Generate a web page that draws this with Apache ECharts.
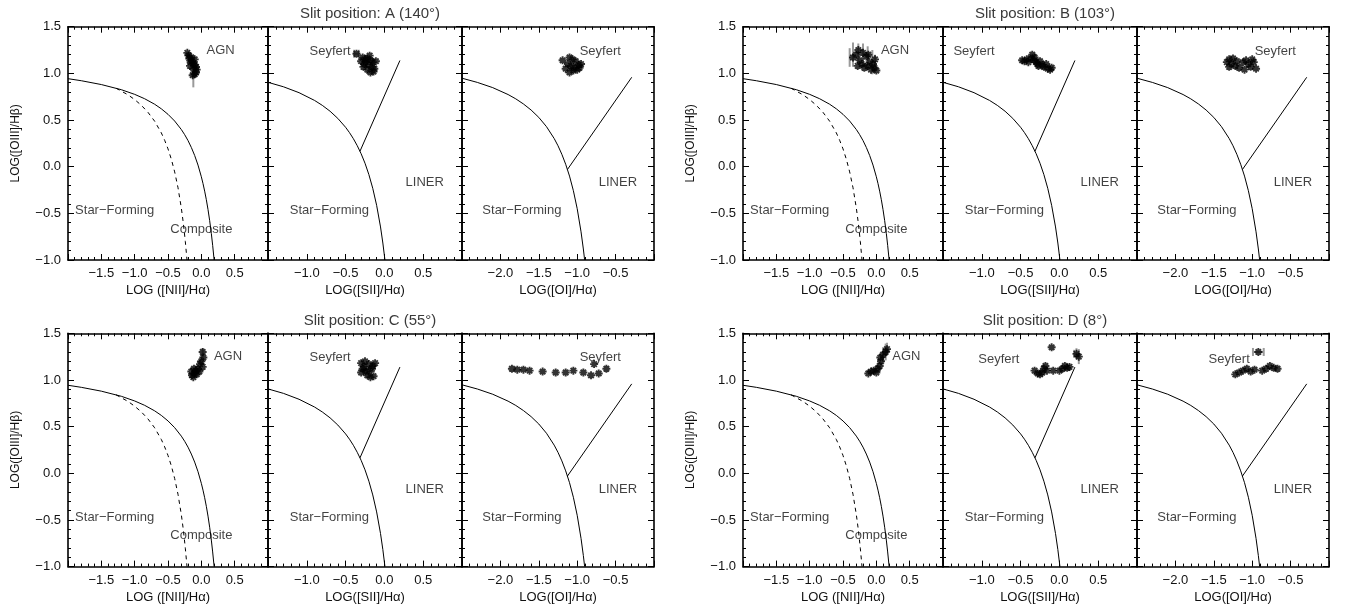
<!DOCTYPE html>
<html>
<head>
<meta charset="UTF-8">
<title>BPT diagrams</title>
<script src="https://cdn.jsdelivr.net/npm/echarts@6/dist/echarts.min.js"></script>
<style>html,body{margin:0;padding:0;background:#fff;}</style>
</head>
<body>
<div id="main" style="width:1345px;height:608px;"></div>
<script>
// demarcation lines
var niiKewley = [[-2.0,0.943],[-1.8,0.921],[-1.5,0.880],[-1.2,0.825],[-1.0,0.775],[-0.85,0.728],[-0.7,0.669],[-0.6,0.620],[-0.5,0.561],[-0.4,0.489],[-0.3,0.398],[-0.25,0.343],[-0.2,0.280],[-0.15,0.206],[-0.1,0.120],[-0.05,0.017],[0.0,-0.108],[0.025,-0.181],[0.05,-0.262],[0.075,-0.354],[0.1,-0.459],[0.125,-0.578],[0.15,-0.716],[0.17,-0.843],[0.192,-1.0]];
var niiKauff = [[-1.28,0.841],[-1.1,0.770],[-1.0,0.719],[-0.9,0.658],[-0.8,0.582],[-0.7,0.487],[-0.6,0.362],[-0.55,0.283],[-0.5,0.191],[-0.45,0.080],[-0.4,-0.056],[-0.35,-0.225],[-0.3,-0.443],[-0.27,-0.606],[-0.24,-0.803],[-0.215,-1.0]];
var siiKewley = [[-1.5,0.904],[-1.3,0.856],[-1.1,0.793],[-0.9,0.710],[-0.8,0.657],[-0.7,0.594],[-0.6,0.517],[-0.5,0.422],[-0.45,0.365],[-0.4,0.300],[-0.35,0.225],[-0.3,0.139],[-0.25,0.037],[-0.2,-0.085],[-0.15,-0.232],[-0.1,-0.414],[-0.05,-0.646],[-0.02,-0.818],[0.007,-1.0]];
var siiLiner = [[-0.315,0.165],[0.2,1.138]];
var oiKewley = [[-2.5,0.948],[-2.3,0.903],[-2.1,0.847],[-1.9,0.773],[-1.8,0.727],[-1.7,0.672],[-1.6,0.607],[-1.5,0.528],[-1.4,0.429],[-1.3,0.302],[-1.25,0.224],[-1.2,0.133],[-1.15,0.026],[-1.1,-0.101],[-1.05,-0.257],[-1.0,-0.450],[-0.95,-0.698],[-0.92,-0.882],[-0.903,-1.0]];
var oiLiner = [[-1.127,-0.03],[-0.29,0.958]];

var slitTitles = ['Slit position: A (140\u00b0)', 'Slit position: B (103\u00b0)', 'Slit position: C (55\u00b0)', 'Slit position: D (8\u00b0)'];
var xNames = ['LOG ([NII]/H\u03b1)', 'LOG([SII]/H\u03b1)', 'LOG([OI]/H\u03b1)'];
var yName = 'LOG([OIII]/H\u03b2)';
var xRanges = [[-2.0, 1.0], [-1.5, 1.0], [-2.5, 0.0]];
var yRange = [-1.0, 1.5];

// measured points [log ratio, log OIII/Hb]
var ptsA1 = [[-0.21,1.22],[-0.19,1.19],[-0.18,1.16],[-0.15,1.17],[-0.14,1.13],[-0.12,1.11],[-0.10,1.09],[-0.08,1.07],[-0.07,1.04],[-0.08,1.01],[-0.10,0.99],[-0.13,0.98],[-0.16,1.12],[-0.12,1.05],[-0.17,1.08],[-0.10,1.15]];
var ptsA2 = [[-0.36,1.21],[-0.28,1.17],[-0.25,1.15],[-0.22,1.16],[-0.18,1.14],[-0.15,1.12],[-0.30,1.13],[-0.26,1.10],[-0.20,1.09],[-0.16,1.07],[-0.13,1.05],[-0.22,1.04],[-0.18,1.01],[-0.14,1.02],[-0.27,1.07],[-0.11,1.13],[-0.24,1.12],[-0.19,1.19]];
var ptsA3 = [[-1.19,1.14],[-1.10,1.17],[-1.06,1.15],[-1.02,1.13],[-1.12,1.10],[-1.08,1.08],[-0.98,1.09],[-0.95,1.10],[-1.15,1.05],[-1.05,1.03],[-1.00,1.04],[-1.10,1.01],[-1.04,1.06],[-0.97,1.06]];
var ptsB1 = [[-0.35,1.17],[-0.30,1.20],[-0.27,1.25],[-0.25,1.14],[-0.22,1.10],[-0.20,1.22],[-0.18,1.06],[-0.15,1.18],[-0.13,1.08],[-0.10,1.12],[-0.08,1.04],[-0.05,1.10],[-0.03,1.06],[0.00,1.03],[-0.28,1.08],[-0.12,1.20],[-0.02,1.15]];
var ptsB2 = [[-0.48,1.14],[-0.45,1.13],[-0.42,1.15],[-0.40,1.12],[-0.37,1.16],[-0.35,1.20],[-0.33,1.14],[-0.30,1.12],[-0.28,1.10],[-0.25,1.13],[-0.22,1.09],[-0.20,1.07],[-0.17,1.10],[-0.15,1.05],[-0.12,1.04],[-0.10,1.06],[-0.32,1.17],[-0.27,1.08]];
var ptsB3 = [[-1.33,1.12],[-1.30,1.15],[-1.27,1.10],[-1.25,1.16],[-1.22,1.08],[-1.20,1.13],[-1.17,1.06],[-1.30,1.07],[-1.12,1.12],[-1.08,1.14],[-1.05,1.10],[-1.02,1.07],[-0.98,1.12],[-0.95,1.05],[-1.10,1.04],[-1.00,1.15]];
var ptsC1 = [[0.02,1.30],[0.03,1.24],[0.00,1.20],[-0.02,1.17],[0.02,1.14],[-0.05,1.12],[-0.08,1.10],[-0.03,1.09],[-0.10,1.07],[-0.14,1.05],[-0.12,1.03],[-0.07,1.06],[-0.15,1.09],[-0.11,1.12]];
var ptsC2 = [[-0.30,1.18],[-0.25,1.20],[-0.20,1.17],[-0.15,1.15],[-0.12,1.18],[-0.28,1.12],[-0.24,1.09],[-0.20,1.10],[-0.16,1.12],[-0.30,1.08],[-0.22,1.05],[-0.18,1.03],[-0.14,1.04],[-0.26,1.14]];
var ptsC3 = [[-1.85,1.12],[-1.78,1.11],[-1.70,1.11],[-1.62,1.10],[-1.45,1.09],[-1.28,1.08],[-1.15,1.08],[-1.05,1.10],[-0.92,1.08],[-0.82,1.05],[-0.72,1.07],[-0.62,1.12],[-0.78,1.17]];
var ptsD1 = [[-0.12,1.07],[-0.08,1.09],[-0.04,1.10],[0.00,1.08],[0.02,1.12],[0.05,1.15],[0.07,1.20],[0.06,1.24],[0.10,1.27],[0.14,1.30],[0.16,1.33]];
var ptsD2 = [[-0.32,1.10],[-0.28,1.07],[-0.25,1.06],[-0.22,1.08],[-0.20,1.12],[-0.18,1.15],[-0.16,1.10],[-0.10,1.35],[-0.08,1.10],[0.00,1.10],[0.04,1.12],[0.07,1.15],[0.10,1.13],[0.13,1.14],[0.22,1.28],[0.25,1.25]];
var ptsD3 = [[-1.22,1.06],[-1.17,1.08],[-1.12,1.10],[-1.07,1.12],[-1.02,1.09],[-0.97,1.11],[-0.92,1.30],[-0.87,1.10],[-0.82,1.12],[-0.77,1.15],[-0.72,1.13],[-0.67,1.12]];

// error bars [x, y, xerr, yerr]
var errA1 = [[-0.12,0.98,0,0.13],[-0.20,1.20,0,0.03]];
var errA2 = [[-0.36,1.21,0.03,0]];
var errA3 = [];
var errB1 = [[-0.40,1.17,0,0.10],[-0.35,1.20,0,0.13],[-0.27,1.22,0,0.10],[-0.20,1.20,0,0.12],[-0.13,1.17,0,0.12],[-0.06,1.12,0,0.13],[-0.02,1.10,0,0.10]];
var errB2 = [];
var errB3 = [];
var errC1 = [[0.02,1.28,0,0.06]];
var errC2 = [];
var errC3 = [];
var errD1 = [[0.10,1.27,0,0.08],[0.14,1.30,0,0.09],[0.16,1.33,0,0.07]];
var errD2 = [[0.22,1.28,0.03,0.06],[0.25,1.25,0,0.08]];
var errD3 = [[-0.92,1.30,0.07,0]];

// region labels
var txtA = [[['AGN',0.29,1.25],['Star\u2212Forming',-1.3,-0.47],['Composite',0.0,-0.67]],
            [['Seyfert',-0.7,1.24],['LINER',0.52,-0.17],['Star\u2212Forming',-0.71,-0.47]],
            [['Seyfert',-0.7,1.24],['LINER',-0.47,-0.17],['Star\u2212Forming',-1.72,-0.47]]];
var txtB = [[['AGN',0.28,1.25],['Star\u2212Forming',-1.3,-0.47],['Composite',0.0,-0.67]],
            [['Seyfert',-1.1,1.24],['LINER',0.52,-0.17],['Star\u2212Forming',-0.71,-0.47]],
            [['Seyfert',-0.7,1.24],['LINER',-0.47,-0.17],['Star\u2212Forming',-1.72,-0.47]]];
var txtC = [[['AGN',0.4,1.25],['Star\u2212Forming',-1.3,-0.47],['Composite',0.0,-0.67]],
            [['Seyfert',-0.7,1.24],['LINER',0.52,-0.17],['Star\u2212Forming',-0.71,-0.47]],
            [['Seyfert',-0.7,1.24],['LINER',-0.47,-0.17],['Star\u2212Forming',-1.72,-0.47]]];
var txtD = [[['AGN',0.45,1.25],['Star\u2212Forming',-1.3,-0.47],['Composite',0.0,-0.67]],
            [['Seyfert',-0.78,1.22],['LINER',0.52,-0.17],['Star\u2212Forming',-0.71,-0.47]],
            [['Seyfert',-1.3,1.22],['LINER',-0.47,-0.17],['Star\u2212Forming',-1.72,-0.47]]];

var pts = [[ptsA1,ptsA2,ptsA3],[ptsB1,ptsB2,ptsB3],[ptsC1,ptsC2,ptsC3],[ptsD1,ptsD2,ptsD3]];
var errs = [[errA1,errA2,errA3],[errB1,errB2,errB3],[errC1,errC2,errC3],[errD1,errD2,errD3]];
var txts = [txtA, txtB, txtC, txtD];
var curves = [[[niiKewley,'solid'],[niiKauff,'dashed']],[[siiKewley,'solid'],[siiLiner,'solid']],[[oiKewley,'solid'],[oiLiner,'solid']]];

// layout
var groupLeft = [68, 743, 68, 743];
var groupTop = [26.7, 26.7, 333.3, 333.3];
var panelOff = [0, 200, 394];
var panelW = [200, 194, 192];
var panelH = 233.3;

var FONT = 'Liberation Sans';
var star = 'path://M5 0L5 10M0 5L10 5M1.6 1.6L8.4 8.4M1.6 8.4L8.4 1.6';

function fmt(v) {
    var s = Math.abs(v).toFixed(1);
    return (v < -1e-9 ? '\u2212' : '') + s;
}

function axisBase(min, max) {
    return {
        type: 'value', min: min, max: max, interval: 0.5,
        axisLine: {show: true, onZero: false, lineStyle: {color: '#000', width: 1.6}},
        axisTick: {show: true, inside: true, length: 6, lineStyle: {color: '#000', width: 1}},
        minorTick: {show: true, splitNumber: 5, length: 3, lineStyle: {color: '#000', width: 1}},
        splitLine: {show: false},
        minorSplitLine: {show: false},
        axisLabel: {show: false}
    };
}

var grids = [], xAxes = [], yAxes = [], series = [], titles = [];

for (var g = 0; g < 4; g++) {
    titles.push({
        text: slitTitles[g],
        left: groupLeft[g] + panelOff[1] + panelW[1] / 2,
        top: groupTop[g] - 25,
        textAlign: 'center',
        textStyle: {fontFamily: FONT, fontSize: 15, fontWeight: 'normal', color: '#3a3a3a'}
    });
    for (var p = 0; p < 3; p++) {
        var gi = g * 3 + p;
        grids.push({left: groupLeft[g] + panelOff[p], top: groupTop[g], width: panelW[p], height: panelH});

        var xb = axisBase(xRanges[p][0], xRanges[p][1]);
        xb.gridIndex = gi; xb.position = 'bottom';
        xb.axisLabel = {show: true, margin: 7, showMinLabel: false, showMaxLabel: false,
            formatter: fmt, fontFamily: FONT, fontSize: 13, color: '#111'};
        xb.name = xNames[p]; xb.nameLocation = 'middle'; xb.nameGap = 24;
        xb.nameTextStyle = {fontFamily: FONT, fontSize: 13, color: '#111'};
        var xt = axisBase(xRanges[p][0], xRanges[p][1]);
        xt.gridIndex = gi; xt.position = 'top';
        xAxes.push(xb, xt);

        var yl = axisBase(yRange[0], yRange[1]);
        yl.gridIndex = gi; yl.position = 'left';
        if (p === 0) {
            yl.axisLabel = {show: true, margin: 7, formatter: fmt, fontFamily: FONT, fontSize: 13, color: '#111'};
            yl.name = yName; yl.nameLocation = 'middle'; yl.nameGap = 46;
            yl.nameTextStyle = {fontFamily: FONT, fontSize: 12, color: '#111'};
        }
        var yr = axisBase(yRange[0], yRange[1]);
        yr.gridIndex = gi; yr.position = 'right';
        yAxes.push(yl, yr);

        var xi = gi * 2, yi = gi * 2;

        // demarcation curves
        curves[p].forEach(function (c) {
            series.push({
                type: 'line', xAxisIndex: xi, yAxisIndex: yi, data: c[0],
                showSymbol: false, symbol: 'none', silent: true, animation: false,
                lineStyle: {color: '#000', width: 1, type: c[1] === 'dashed' ? [4, 4] : 'solid'}
            });
        });

        // error bars
        series.push({
            type: 'custom', xAxisIndex: xi, yAxisIndex: yi, data: errs[g][p], animation: false,
            renderItem: function (params, api) {
                var x = api.value(0), y = api.value(1), ex = api.value(2), ey = api.value(3);
                var kids = [];
                var st = {stroke: '#9a9a9a', lineWidth: 2};
                if (ey > 0) {
                    var a = api.coord([x, y - ey]), b = api.coord([x, y + ey]);
                    kids.push({type: 'line', shape: {x1: a[0], y1: a[1], x2: b[0], y2: b[1]}, style: st});
                }
                if (ex > 0) {
                    var c = api.coord([x - ex, y]), d = api.coord([x + ex, y]);
                    kids.push({type: 'line', shape: {x1: c[0], y1: c[1], x2: d[0], y2: d[1]}, style: st});
                    kids.push({type: 'line', shape: {x1: c[0], y1: c[1] - 4, x2: c[0], y2: c[1] + 4}, style: st});
                    kids.push({type: 'line', shape: {x1: d[0], y1: d[1] - 4, x2: d[0], y2: d[1] + 4}, style: st});
                }
                return {type: 'group', children: kids};
            }
        });

        // data points
        series.push({
            type: 'scatter', xAxisIndex: xi, yAxisIndex: yi, data: pts[g][p],
            symbol: star, symbolSize: 8, animation: false,
            itemStyle: {color: 'none', borderColor: '#000', borderWidth: 1.9}
        });

        // region names
        series.push({
            type: 'scatter', xAxisIndex: xi, yAxisIndex: yi, symbolSize: 1, silent: true, animation: false,
            itemStyle: {color: 'rgba(0,0,0,0)'},
            data: txts[g][p].map(function (t) { return {name: t[0], value: [t[1], t[2]]}; }),
            label: {show: true, position: 'inside', formatter: '{b}', fontFamily: FONT, fontSize: 13, color: '#111'}
        });
    }
}

var chart = echarts.init(document.getElementById('main'));
chart.setOption({
    backgroundColor: '#fff',
    animation: false,
    title: titles,
    grid: grids,
    xAxis: xAxes,
    yAxis: yAxes,
    series: series
});
</script>
</body>
</html>
